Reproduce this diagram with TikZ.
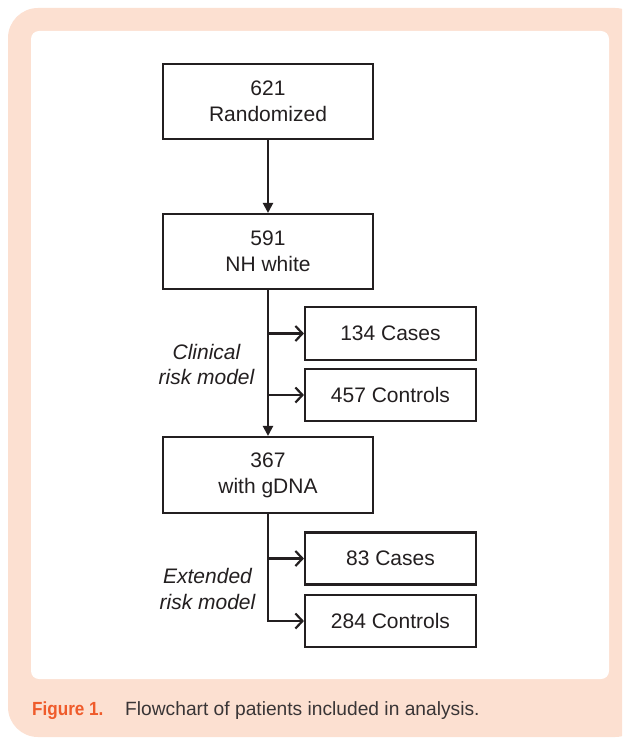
\documentclass[tikz,border=0pt]{standalone}
\usepackage{fontspec}
\setmainfont{Liberation Sans}
\newfontfamily\capbold[FakeStretch=0.9]{Liberation Sans Bold}
\newfontfamily\capreg{Liberation Sans}
\usetikzlibrary{arrows.meta}
\definecolor{peach}{HTML}{FCE0D1}
\definecolor{capred}{HTML}{EF5B2B}
\definecolor{ink}{HTML}{231F20}
\tikzset{
  box/.style={draw=ink, line width=2.1pt, text=ink, inner sep=0pt, align=center,
    font=\fontsize{21}{26}\selectfont},
  bigbox/.style={box, minimum width=210pt, minimum height=75pt},
  smallbox/.style={box, minimum width=171pt, minimum height=52pt},
  mainarrow/.style={draw=ink, line width=2.2pt, -{Triangle[length=10pt,width=10pt]}},
  branch/.style={draw=ink, line width=2.2pt, -{Straight Barb[length=7pt,width=15pt,line width=2.2pt]}},
  lbl/.style={text=ink, inner sep=0pt, anchor=base, font=\fontsize{21}{26}\selectfont\itshape},
}
\begin{document}
\begin{tikzpicture}[x=1pt,y=-1pt]
\useasboundingbox (0,0) rectangle (622,738);
\begin{scope}
\clip (0,0) rectangle (622,738);
\fill[white] (0,0) rectangle (622,738);
\fill[peach, rounded corners=30pt] (8,8) rectangle (645,737);
\fill[white, rounded corners=8pt] (31,31) rectangle (609,679);
\end{scope}

\node[bigbox] (b1) at (268,101.5) {621\\Randomized};
\node[bigbox] (b2) at (268,251.5) {591\\NH white};
\node[bigbox, minimum height=76pt] (b5) at (268,475) {367\\with gDNA};
\node[smallbox, minimum height=53pt] (c1) at (390.5,333.5) {134 Cases};
\node[smallbox] (c2) at (390.5,395) {457 Controls};
\node[smallbox] (c3) at (390.5,558.5) {83 Cases};
\node[smallbox] (c4) at (390.5,621) {284 Controls};

\draw[mainarrow] (b1.south) -- (b2.north);
\draw[mainarrow] (b2.south) -- (b5.north);
\draw[branch] (b2.south |- c1.west) -- (c1.west);
\draw[branch] (b2.south |- c2.west) -- (c2.west);
\draw[branch] (b5.south |- c3.west) -- (c3.west);
\draw[branch] (b5.south) |- (c4.west);

\node[lbl] (l1) at (206.5,359) {Clinical};
\node[lbl] (l2) at (206.5,384) {risk model};
\node[lbl] (l3) at (207.5,583) {Extended};
\node[lbl] (l4) at (207.5,609) {risk model};

\node[anchor=base west, inner sep=0pt, text=capred, font=\fontsize{19}{22}\capbold] (f1) at (32,715) {Figure 1.};
\node[anchor=base west, inner sep=0pt, text=ink!90, font=\fontsize{19.2}{22}\capreg] (f2) at (125,715) {Flowchart of patients included in analysis.};
\end{tikzpicture}
\end{document}
